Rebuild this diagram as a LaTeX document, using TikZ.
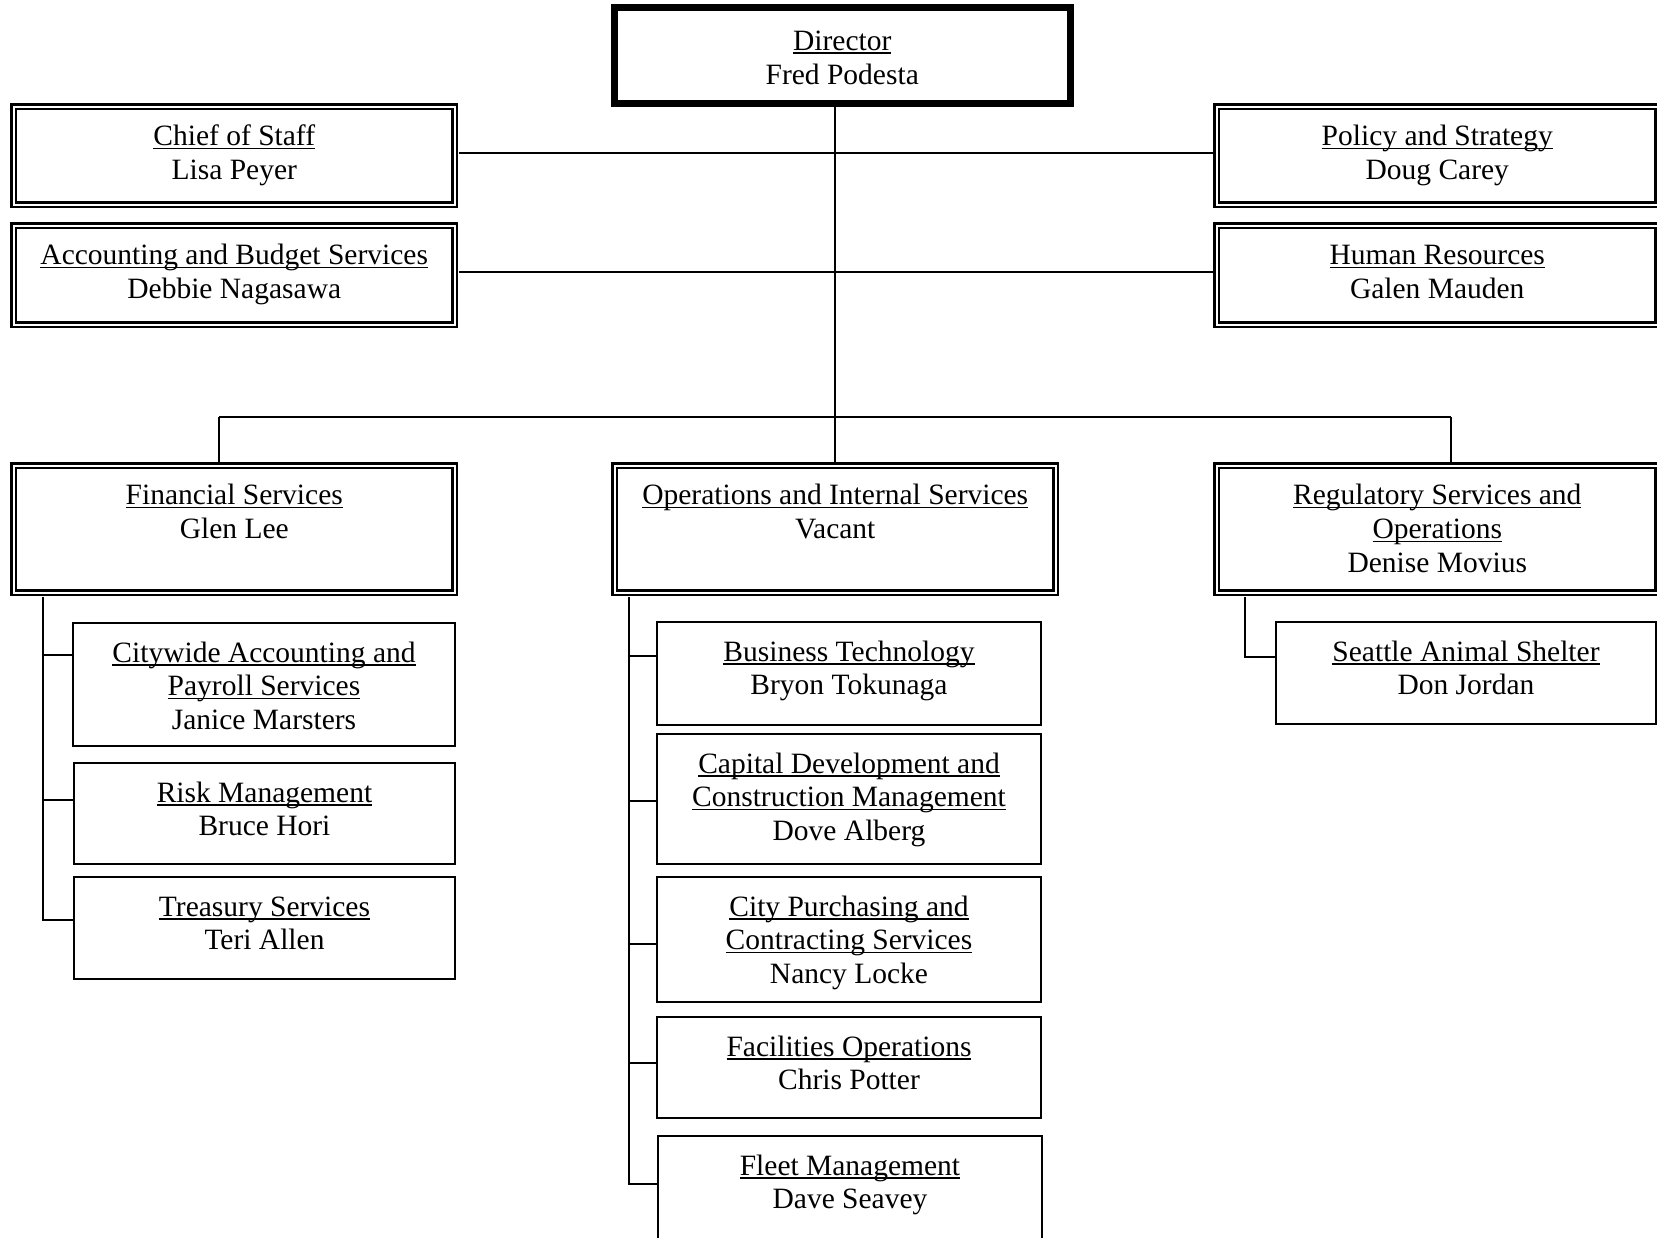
\documentclass[tikz,border=0pt]{standalone}
\usepackage{fontspec}
\setmainfont{Liberation Serif}

% subrayado a profundidad fija
\newcommand{\uln}[1]{\leavevmode\setbox0=\hbox{#1}\rlap{\rule[-3.5pt]{\wd0}{1.5pt}}\box0}
% texto de cada caja: ancho, alto, contenido (arriba)
\newcommand{\boxtext}[4][15.5pt]{\parbox[c][#3pt][t]{#2pt}{\centering\vspace*{#1}\strut#4}}

\begin{document}
\begin{tikzpicture}[x=1pt, y=-1pt,
    font=\fontsize{29.5}{33.8}\selectfont,
    orgbox/.style={draw, inner sep=0pt, outer sep=1pt, anchor=north west, line width=2pt},
    dorgbox/.style={orgbox, double, line width=2.3pt, double distance=2.5pt, outer sep=3.75pt},
    wire/.style={line width=1.6pt}]
    \useasboundingbox (0,0) rectangle (1657,1237);

    % Director y staff
    \node[orgbox, line width=6.5pt, outer sep=3.25pt] (dir) at (611,4) {\boxtext[19.5pt]{456}{96}{\uln{Director}\\Fred Podesta}};
    \node[dorgbox] (chief) at (10,103) {\boxtext{441}{98}{\uln{Chief of Staff}\\Lisa Peyer}};
    \node[dorgbox] (acct) at (10,222) {\boxtext{441}{99}{\uln{Accounting and Budget Services}\\Debbie Nagasawa}};
    \node[dorgbox] (policy) at (1213,103) {\boxtext{441}{98}{\uln{Policy and Strategy}\\Doug Carey}};
    \node[dorgbox] (hr) at (1213,222) {\boxtext{441}{99}{\uln{Human Resources}\\Galen Mauden}};

    % Divisiones
    \node[dorgbox] (fin) at (10,462) {\boxtext{441}{127}{\uln{Financial Services}\\Glen Lee}};
    \node[dorgbox] (ops) at (611,462) {\boxtext{441}{127}{\uln{Operations and Internal Services}\\Vacant}};
    \node[dorgbox] (reg) at (1213,462) {\boxtext{441}{127}{\uln{Regulatory Services and}\\\uln{Operations}\\Denise Movius}};

    % Financial Services
    \node[orgbox] (city) at (72,622) {\boxtext{382}{123}{\uln{Citywide Accounting and}\\\uln{Payroll Services}\\Janice Marsters}};
    \node[orgbox] (risk) at (73,762) {\boxtext{381}{101}{\uln{Risk Management}\\Bruce Hori}};
    \node[orgbox] (treas) at (73,876) {\boxtext{381}{102}{\uln{Treasury Services}\\Teri Allen}};

    % Operations and Internal Services
    \node[orgbox] (biz) at (656,621) {\boxtext{384}{103}{\uln{Business Technology}\\Bryon Tokunaga}};
    \node[orgbox] (cap) at (656,733) {\boxtext{384}{130}{\uln{Capital Development and}\\\uln{Construction Management}\\Dove Alberg}};
    \node[orgbox] (purch) at (656,876) {\boxtext{384}{125}{\uln{City Purchasing and}\\\uln{Contracting Services}\\Nancy Locke}};
    \node[orgbox] (fac) at (656,1016) {\boxtext{384}{101}{\uln{Facilities Operations}\\Chris Potter}};
    \node[orgbox] (fleet) at (657,1135) {\boxtext{384}{112}{\uln{Fleet Management}\\Dave Seavey}};

    % Regulatory Services
    \node[orgbox] (shelter) at (1275,621) {\boxtext{380}{102}{\uln{Seattle Animal Shelter}\\Don Jordan}};

    % Lineas
    \coordinate (bus) at (835,417);
    \coordinate (busL) at (219,417);
    \coordinate (busR) at (1451,417);
    \draw[wire] (dir.south -| bus) -- (bus);
    \draw[wire] ([yshift=3pt]chief.east) -- ([yshift=3pt]policy.west);
    \draw[wire] ([yshift=3pt]acct.east) -- ([yshift=3pt]hr.west);
    \draw[wire] (busL) -- (busR);
    \draw[wire] (busL) -- (busL |- fin.north);
    \draw[wire] (bus) -- (bus |- ops.north);
    \draw[wire] (busR) -- (busR |- reg.north);

    \coordinate (finline) at (43,0);
    \coordinate (opsline) at (629,0);
    \coordinate (regline) at (1245,0);
    \draw[wire] ([yshift=-33pt]city.north west) -| (fin.south -| finline);
    \draw[wire] ([yshift=-38pt]risk.north west) -| (fin.south -| finline);
    \draw[wire] ([yshift=-44pt]treas.north west) -| (fin.south -| finline);
    \draw[wire] ([yshift=-35pt]biz.north west) -| (ops.south -| opsline);
    \draw[wire] ([yshift=-68pt]cap.north west) -| (ops.south -| opsline);
    \draw[wire] ([yshift=-68pt]purch.north west) -| (ops.south -| opsline);
    \draw[wire] ([yshift=-47pt]fac.north west) -| (ops.south -| opsline);
    \draw[wire] ([yshift=-49pt]fleet.north west) -| (ops.south -| opsline);
    \draw[wire] ([yshift=-36pt]shelter.north west) -| (reg.south -| regline);
\end{tikzpicture}
\end{document}
